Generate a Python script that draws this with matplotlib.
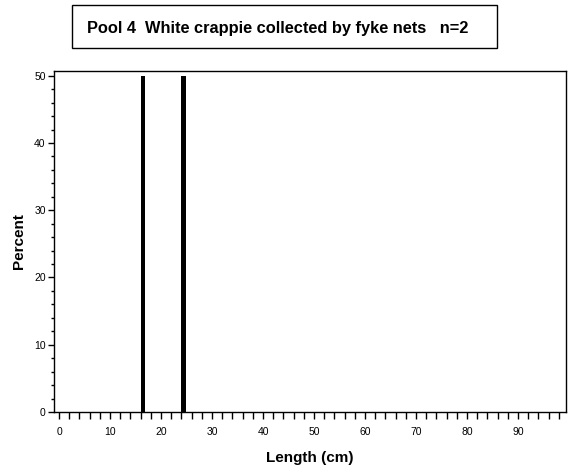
import matplotlib.pyplot as plt
from matplotlib.ticker import MultipleLocator

# length classes (cm) and percent of fish
lengths = [16, 24]
percent = [50, 50]

title = "Pool 4  White crappie collected by fyke nets   n=2"
xticks = [0, 10, 20, 30, 40, 50, 60, 70, 80, 90]
yticks = [0, 10, 20, 30, 40, 50]

plt.rcParams["font.family"] = ["Liberation Sans", "DejaVu Sans"]

fig = plt.figure(figsize=(5.7, 4.75), dpi=100)
ax = fig.add_axes([54 / 570, 1 - 412 / 475, 512 / 570, 341 / 475])

ax.bar(lengths, percent, width=0.8, color="black", align="edge")

ax.set_xlim(-1, 99.4)
ax.set_ylim(0, 50.7)
ax.set_xticks(xticks)
ax.xaxis.set_minor_locator(MultipleLocator(2))
ax.set_yticks(yticks)
ax.yaxis.set_minor_locator(MultipleLocator(2))

ax.tick_params(axis="x", which="both", length=5, width=1, labelsize=7.5, pad=6)
ax.tick_params(axis="y", which="major", length=4, width=1, labelsize=7.5, pad=2)
ax.tick_params(axis="y", which="minor", length=2, width=1)
for s in ax.spines.values():
    s.set_linewidth(1)

ax.set_xlabel("Length (cm)", fontsize=11, fontweight="bold", labelpad=10)
ax.set_ylabel("Percent", fontsize=11, fontweight="bold", labelpad=6)

fig.text(87 / 570, 1 - 28 / 475, title, ha="left", va="center",
         fontsize=11.8, fontweight="bold")
box = plt.Rectangle((72 / 570, 1 - 48 / 475), 425 / 570, 43 / 475,
                    transform=fig.transFigure, fill=False, edgecolor="black", lw=1)
fig.add_artist(box)

fig.savefig("out.png", dpi=100)
